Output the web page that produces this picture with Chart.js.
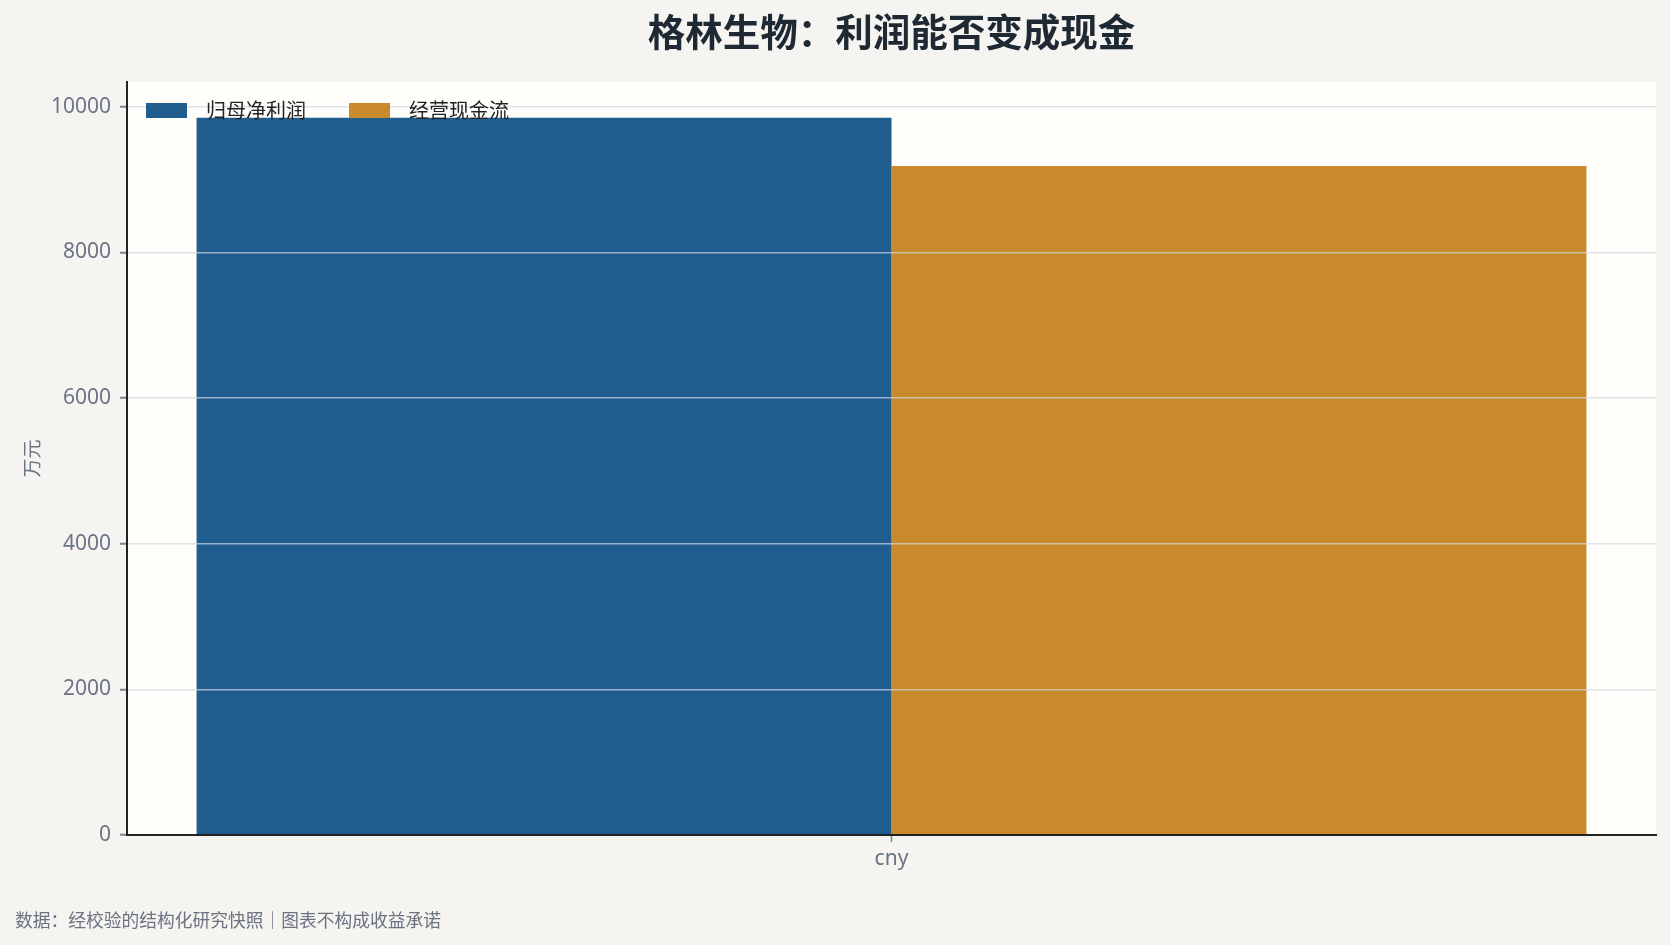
<!DOCTYPE html>
<html>
<head>
<meta charset="utf-8">
<script src="https://cdn.jsdelivr.net/npm/chart.js@4"></script>
<style>
  html, body { margin: 0; padding: 0; background: #f5f4f0; }
  #wrap { width: 1670px; height: 945px; }
</style>
</head>
<body>
<div id="wrap"><canvas id="c" width="1670" height="945"></canvas></div>
<script>
const titleText = '格林生物：利润能否变成现金';
const footerText = '数据：经校验的结构化研究快照｜图表不构成收益承诺';
const yAxisTitle = '万元';
const categories = ['cny'];
const seriesNames = ['归母净利润', '经营现金流'];
const netProfit = [9845];
const operatingCash = [9185];
const yTicks = [0, 2000, 4000, 6000, 8000, 10000];
const colors = ['#1f5d8f', '#c98a2e'];

const FONT = "'Noto Sans', 'Noto Sans CJK SC', sans-serif";
const CJK = "'Noto Sans CJK SC', 'Noto Sans', sans-serif";

const yMax = Math.max(...netProfit, ...operatingCash) * 1.05;

const decor = {
  id: 'decor',
  beforeDraw(chart) {
    const {ctx, chartArea: a} = chart;
    ctx.save();
    ctx.fillStyle = '#f5f4f0';
    ctx.fillRect(0, 0, chart.width, chart.height);
    ctx.fillStyle = '#fffefa';
    ctx.fillRect(a.left, a.top, a.right - a.left, a.bottom - a.top);
    ctx.restore();
  },
  afterDraw(chart) {
    const {ctx, chartArea: a} = chart;
    ctx.save();
    // title
    ctx.fillStyle = '#1f2933';
    ctx.font = "bold 37.5px " + CJK;
    ctx.textAlign = 'center';
    ctx.textBaseline = 'middle';
    ctx.fillText(titleText, (a.left + a.right) / 2, 32);
    // footer
    ctx.fillStyle = '#6b7280';
    ctx.font = "17.75px " + CJK;
    ctx.textAlign = 'left';
    ctx.fillText(footerText, 15, 920);
    // legend
    let x = a.left + 19;
    const boxW = 41, boxH = 15, yc = 110.5;
    ctx.font = "20px " + CJK;
    chart.data.datasets.forEach((ds) => {
      ctx.fillStyle = ds.backgroundColor;
      ctx.fillRect(x, yc - boxH / 2, boxW, boxH);
      x += boxW + 19;
      ctx.fillStyle = '#222222';
      ctx.textAlign = 'left';
      ctx.fillText(ds.label, x, yc);
      x += ctx.measureText(ds.label).width + 43;
    });
    ctx.restore();
  }
};

new Chart(document.getElementById('c'), {
  type: 'bar',
  data: {
    labels: categories,
    datasets: [
      { label: seriesNames[0], data: netProfit, backgroundColor: colors[0] },
      { label: seriesNames[1], data: operatingCash, backgroundColor: colors[1] }
    ]
  },
  options: {
    responsive: false,
    animation: false,
    devicePixelRatio: 1,
    categoryPercentage: 0.909,
    barPercentage: 1,
    layout: { padding: { top: 82, right: 14, left: 0, bottom: 50 } },
    plugins: {
      legend: { display: false },
      title: { display: false },
      tooltip: { enabled: false }
    },
    scales: {
      x: {
        grid: { display: true, offset: false, drawOnChartArea: false, drawTicks: true, tickLength: 7, tickColor: '#7a8294', tickWidth: 1.5 },
        border: { display: true, color: '#222222', width: 2, z: 3 },
        ticks: { color: '#6b7385', font: { family: FONT, size: 21 }, padding: 4 },
        afterFit(s) { s.height = 60; }
      },
      y: {
        min: 0,
        max: yMax,
        afterBuildTicks(s) { s.ticks = yTicks.map(v => ({ value: v })); },
        grid: {
          color: (c) => (c.tick && c.tick.value === 0) ? 'rgba(0,0,0,0)' : 'rgba(210,215,225,0.7)',
          lineWidth: 1.5, z: 1, tickLength: 7, tickColor: '#7a8294', tickWidth: 2
        },
        border: { display: true, color: '#222222', width: 2, z: 3 },
        ticks: { color: '#6b7385', font: { family: FONT, size: 21 }, padding: 9, callback: (v) => String(v) },
        title: { display: true, text: yAxisTitle, color: '#6b7385', font: { family: CJK, size: 19 }, padding: { top: 20, bottom: 0 } },
        afterFit(s) { s.width = 127; }
      }
    }
  },
  plugins: [decor]
});
</script>
</body>
</html>
